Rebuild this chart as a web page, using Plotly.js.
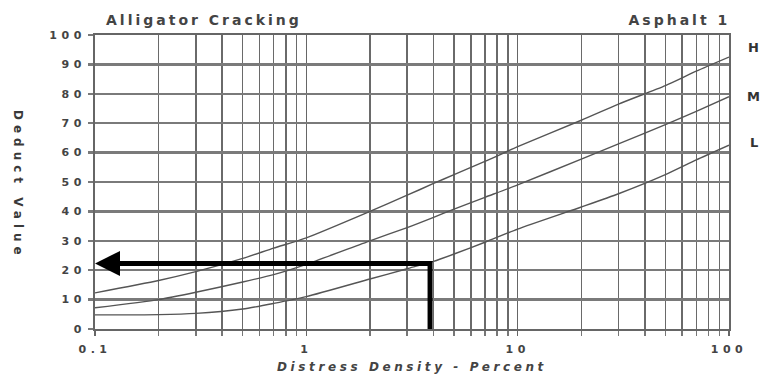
<!DOCTYPE html>
<html>
<head>
<meta charset="utf-8">
<script src="https://cdn.plot.ly/plotly-3.0.1.min.js"></script>
<style>
  html, body { margin: 0; padding: 0; background: #fff; }
  #chart { width: 764px; height: 374px; }
  #chart .xtick text, #chart .ytick text { letter-spacing: 4.5px; }
  #chart .xtitle { letter-spacing: 3.6px; }
  #chart g.annotation[data-index="0"] text,
  #chart g.annotation[data-index="1"] text { letter-spacing: 3px; }
  #chart g.annotation[data-index="5"] text { letter-spacing: 5px; }
</style>
</head>
<body>
<div id="chart"></div>
<script>
// Distress density (percent) sample points
const density = [0.1, 0.2, 0.3, 0.5, 0.7, 1, 2, 3, 4, 5, 7, 10, 20, 30, 50, 70, 100];
// Deduct values
const deductH = [12.3, 16.5, 19.5, 24, 27.5, 31, 40, 45.5, 49.5, 52.5, 57, 62, 71, 76.5, 82.8, 87.7, 92.5];
const deductM = [7.2, 10, 12.5, 16, 18.5, 22, 30, 34.5, 38, 40.8, 44.8, 49, 57.8, 63, 69.5, 74, 79];
const deductL = [4.8, 4.9, 5.3, 6.8, 8.7, 11, 17, 20.5, 23, 25.5, 29.5, 34, 41.5, 46, 52.5, 57.5, 62.5];
const severityNames = ['H', 'M', 'L'];
// Reading path: from density up to the curve, then across to the deduct axis
const readX = [3.85, 3.85, 0.115];
const readY = [0, 22.3, 22.3];
const arrowTip = [0.1, 22.3];
// Axis ticks
const xTickVals = [0.1, 1, 10, 100];
const xTickText = ['0.1', '1', '10', '100'];
const xMinorVals = [0.2,0.3,0.4,0.5,0.6,0.7,0.8,0.9,2,3,4,5,6,7,8,9,20,30,40,50,60,70,80,90];
const yTickVals = [0,10,20,30,40,50,60,70,80,90,100];

const fam = 'DejaVu Sans, Liberation Sans, sans-serif';
const txt = (size, extra) => Object.assign({family: fam, size: size, color: '#444', weight: 'bold'}, extra || {});

const traces = [deductH, deductM, deductL].map((ys, i) => ({
  x: density, y: ys, type: 'scatter', mode: 'lines',
  name: severityNames[i], line: {color: '#555', width: 1.4, shape: 'spline', smoothing: 0.6},
  hoverinfo: 'skip'
}));
traces.push({
  x: readX, y: readY, type: 'scatter', mode: 'lines',
  line: {color: '#000', width: 5}, hoverinfo: 'skip'
});

const layout = {
  width: 764, height: 374,
  margin: {l: 95, r: 35, t: 35, b: 45},
  paper_bgcolor: '#fff', plot_bgcolor: '#fff',
  showlegend: false,
  font: txt(11),
  xaxis: {
    type: 'log', range: [-1, 2],
    tickmode: 'array', tickvals: xTickVals, ticktext: xTickText,
    showgrid: true, gridcolor: '#666', gridwidth: 1.6,
    minor: {tickmode: 'array', tickvals: xMinorVals, showgrid: true, gridcolor: '#6a6a6a', gridwidth: 1.5, ticks: 'outside', ticklen: 5, tickcolor: '#777'},
    ticks: 'outside', ticklen: 5, tickcolor: '#666', tickwidth: 1.5,
    ticklabelstandoff: 4,
    showline: true, mirror: true, linecolor: '#666', linewidth: 2,
    zeroline: false,
    tickfont: txt(11),
    title: {text: 'Distress Density - Percent', standoff: 8, font: txt(12, {style: 'italic'})}
  },
  yaxis: {
    range: [0, 100],
    tickmode: 'array', tickvals: yTickVals,
    showgrid: true, gridcolor: '#7a7a7a', gridwidth: 2.4,
    ticks: 'outside', ticklen: 5, tickcolor: '#7a7a7a', tickwidth: 2.4,
    showline: true, mirror: true, linecolor: '#666', linewidth: 2,
    zeroline: false,
    tickfont: txt(11),
    title: {text: ''}
  },
  annotations: [
    {text: 'Alligator Cracking', xref: 'paper', yref: 'paper', x: 0.1727, y: 1.051,
     xanchor: 'center', yanchor: 'middle', showarrow: false, font: txt(14)},
    {text: 'Asphalt 1', xref: 'paper', yref: 'paper', x: 0.9227, y: 1.051,
     xanchor: 'center', yanchor: 'middle', showarrow: false, font: txt(14)},
    {text: 'H', xref: 'paper', yref: 'y', x: 1.039, y: 95.6, xanchor: 'center', showarrow: false, font: txt(13, {color: '#333'})},
    {text: 'M', xref: 'paper', yref: 'y', x: 1.039, y: 79, xanchor: 'center', showarrow: false, font: txt(13, {color: '#333'})},
    {text: 'L', xref: 'paper', yref: 'y', x: 1.039, y: 63.3, xanchor: 'center', showarrow: false, font: txt(13, {color: '#333'})},
    {text: 'Deduct Value', xref: 'paper', yref: 'paper', x: -0.1215, y: 0.49,
     xanchor: 'center', yanchor: 'middle', textangle: 90, showarrow: false, font: txt(12, {color: '#3a3a3a'})},
    {text: '', xref: 'x', yref: 'y', axref: 'x', ayref: 'y',
     x: Math.log10(arrowTip[0]), y: arrowTip[1],
     ax: Math.log10(readX[1]), ay: readY[1],
     showarrow: true, arrowhead: 2, arrowsize: 1, arrowwidth: 5, arrowcolor: '#000', standoff: 0}
  ]
};

Plotly.newPlot('chart', traces, layout, {staticPlot: true, displayModeBar: false});
</script>
</body>
</html>
